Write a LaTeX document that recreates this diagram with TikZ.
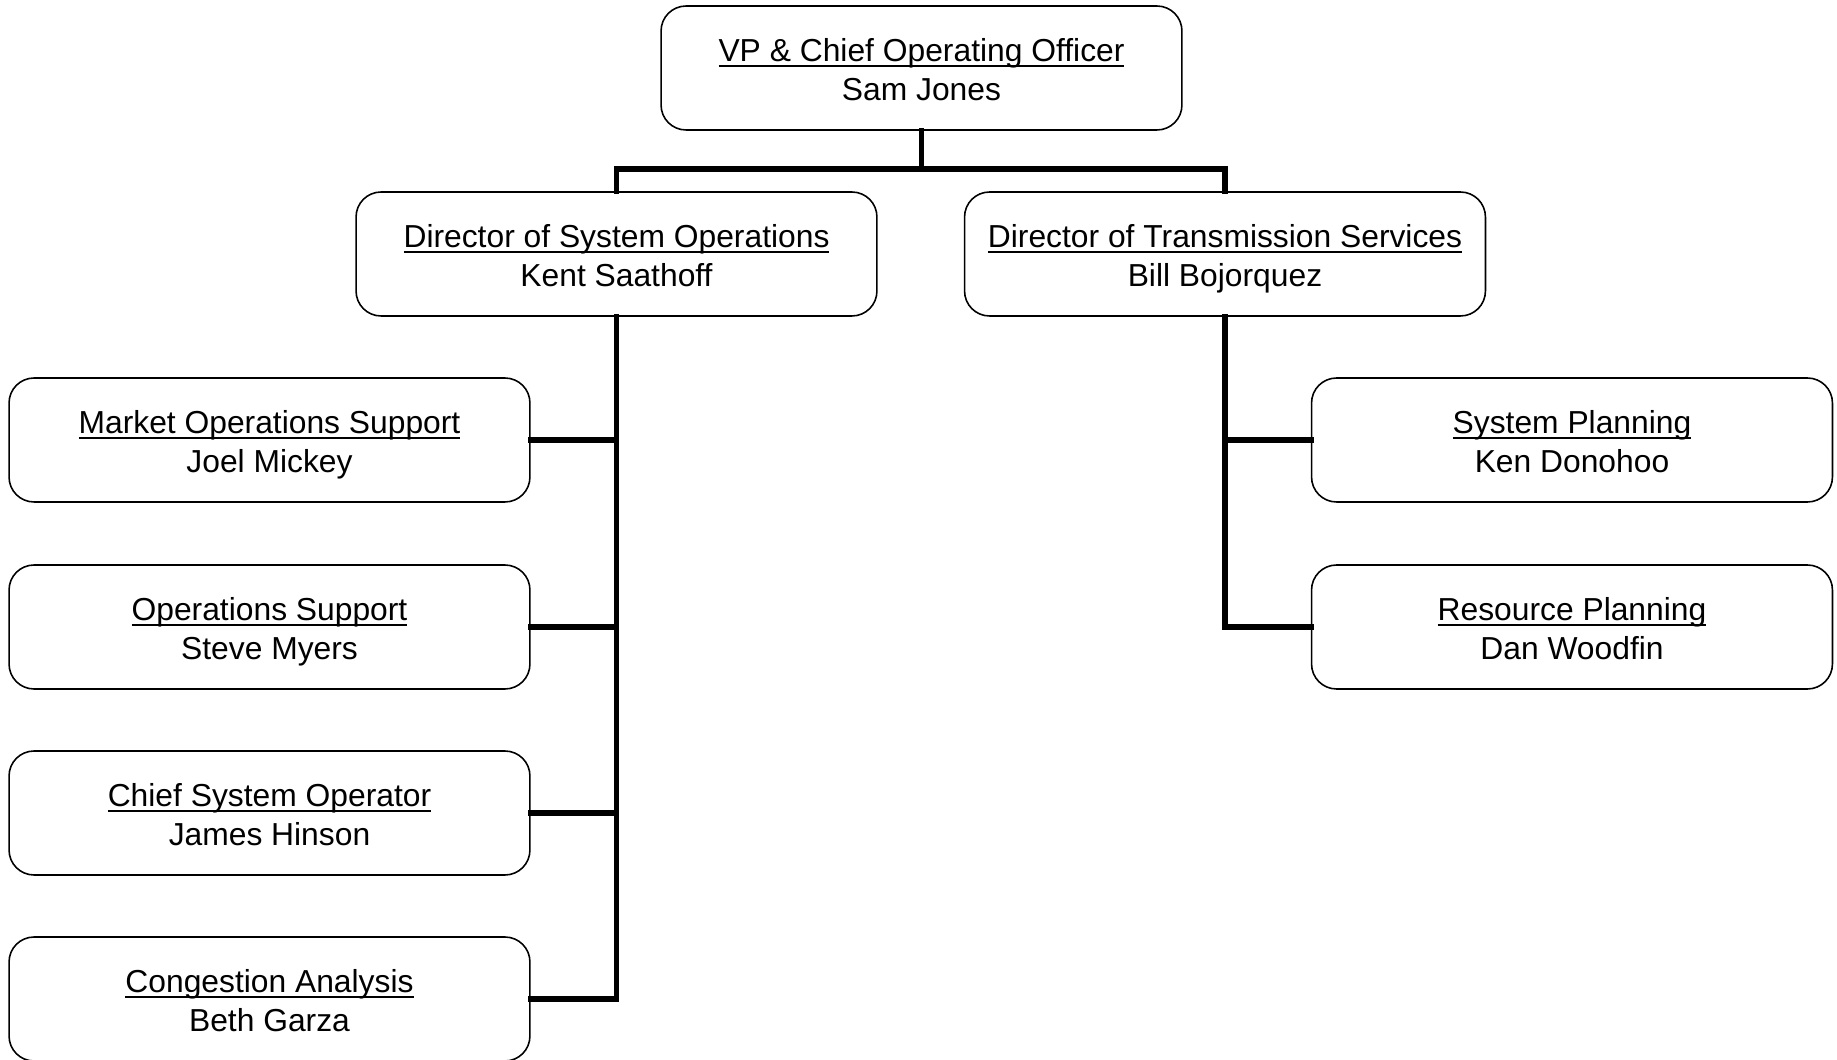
\documentclass[tikz,border=0pt]{standalone}
\usepackage{fontspec}
\setmainfont{Liberation Sans}

% underlined title: a rule of the text's width set just below the baseline
\newsavebox\titlebox
\newcommand\uln[1]{\sbox\titlebox{#1}\rlap{\rule[-3.2pt]{\wd\titlebox}{1.3pt}}\usebox\titlebox}
% fixed-size struts keep every box's text at the same place, a little below centre
\newcommand\post[2]{\rule{0pt}{21.5pt}\uln{#1}\\#2\strut}

\tikzset{
  unit/.style={rectangle, rounded corners=0.5cm, draw=black, line width=0.9pt,
    fill=white, minimum width=10.42cm, minimum height=2.48cm, inner sep=0pt,
    align=center, font=\fontsize{18.1}{22.5}\selectfont},
  conn/.style={draw=black, line width=3.3pt, line join=miter, line cap=rect}
}

\begin{document}
\begin{tikzpicture}[x=0.02cm, y=-0.02cm]
  \useasboundingbox (0,0) rectangle (1837,1060);

  % executive
  \node[unit] (coo) at (921.5,68) {\post{VP \& Chief Operating Officer}{Sam Jones}};

  % directors
  \node[unit] (dso) at (616.5,254) {\post{Director of System Operations}{Kent Saathoff}};
  \node[unit] (dts) at (1225,254) {\post{Director of Transmission Services}{Bill Bojorquez}};

  % system operations groups
  \node[unit] (mos) at (269.5,440) {\post{Market Operations Support}{Joel Mickey}};
  \node[unit] (ops) at (269.5,627) {\post{Operations Support}{Steve Myers}};
  \node[unit] (cso) at (269.5,813) {\post{Chief System Operator}{James Hinson}};
  \node[unit] (cga) at (269.5,999) {\post{Congestion Analysis}{Beth Garza}};

  % transmission services groups
  \node[unit] (spl) at (1572,440) {\post{System Planning}{Ken Donohoo}};
  \node[unit] (rpl) at (1572,627) {\post{Resource Planning}{Dan Woodfin}};

  % reporting lines
  \coordinate (bar) at (921.5,169);
  \draw[conn] (coo.south) -- (bar);
  \draw[conn] (dso.north) -- (dso.north |- bar) -- (dts.north |- bar) -- (dts.north);

  \draw[conn] (dso.south) |- (cga.east);
  \draw[conn] (mos.east) -- (mos.east -| dso.south);
  \draw[conn] (ops.east) -- (ops.east -| dso.south);
  \draw[conn] (cso.east) -- (cso.east -| dso.south);

  \draw[conn] (dts.south) |- (rpl.west);
  \draw[conn] (spl.west) -- (spl.west -| dts.south);
\end{tikzpicture}
\end{document}
